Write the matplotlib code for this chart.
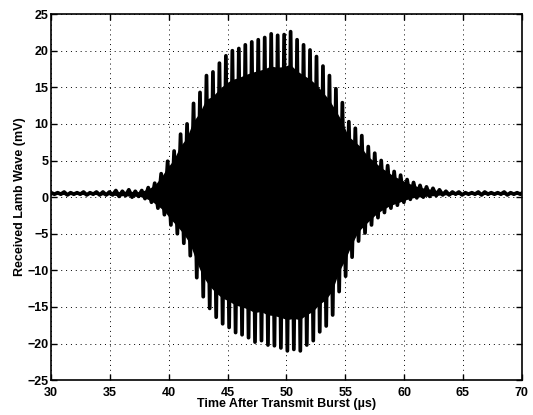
import numpy as np
import matplotlib
matplotlib.use("Agg")
import matplotlib.pyplot as plt

# burst: one positive and one negative peak per carrier cycle
t_start_us = 30.0
cycle_us = 0.55

peak_hi_mV = [
    0.6, 0.6, 0.7, 0.6, 0.6, 0.7, 0.6, 0.7, 0.7, 0.7,
    0.9, 0.8, 1.0, 0.8, 0.9, 1.3, 1.9, 3.2, 4.9, 6.3,
    8.6, 10.0, 12.8, 14.3, 16.6, 17.1, 18.3, 19.3, 20.0, 20.3,
    20.8, 21.2, 21.5, 21.8, 22.3, 22.1, 22.2, 22.6, 21.5, 20.8,
    20.1, 19.2, 17.9, 16.6, 14.8, 12.9, 10.3, 9.4, 8.4, 6.9,
    6.0, 5.0, 4.3, 3.5, 3.0, 2.4, 2.0, 1.6, 1.4, 1.2,
    1.0, 0.8, 0.7, 0.7, 0.6, 0.6, 0.7, 0.7, 0.6, 0.6,
    0.7, 0.6, 0.6, 0.7,
]
peak_lo_mV = [
    0.4, 0.4, 0.3, 0.4, 0.4, 0.3, 0.4, 0.3, 0.3, 0.3,
    0.1, 0.2, 0.0, 0.1, -0.2, -0.7, -1.5, -2.4, -3.8, -5.0,
    -6.3, -8.0, -11.0, -13.6, -15.2, -16.4, -17.3, -17.8, -18.5, -18.8,
    -19.2, -19.8, -19.6, -20.2, -20.3, -20.6, -21.0, -20.8, -21.0, -20.2,
    -19.6, -18.4, -17.6, -16.1, -12.9, -10.8, -8.2, -6.0, -4.9, -3.8,
    -2.8, -2.1, -1.5, -1.1, -0.7, -0.3, -0.1, 0.0, 0.1, 0.2,
    0.3, 0.3, 0.4, 0.3, 0.4, 0.4, 0.3, 0.4, 0.4, 0.4,
    0.3, 0.4, 0.4, 0.3,
]

x_ticks = [30, 35, 40, 45, 50, 55, 60, 65, 70]
y_ticks = [-25, -20, -15, -10, -5, 0, 5, 10, 15, 20, 25]

hi = np.array(peak_hi_mV)
lo = np.array(peak_lo_mV)
t_hi = t_start_us + cycle_us * np.arange(len(hi))
t_lo = t_hi + cycle_us / 2
t = np.column_stack([t_hi, t_lo]).ravel()
v = np.column_stack([hi, lo]).ravel()

CORE = 0.8  # the dense middle of the scanned trace prints as solid black

plt.rcParams["font.family"] = ["Liberation Sans", "DejaVu Sans"]

fig = plt.figure(figsize=(5.33, 4.15), dpi=100)
ax = fig.add_axes([0.096, 0.084, 0.883, 0.882])
ax.fill(np.r_[t_hi, t_lo[::-1]], np.r_[CORE * hi, CORE * lo[::-1]],
        color="black", linewidth=0)
ax.plot(t, v, color="black", linewidth=2.7)

ax.set_xlim(30, 70)
ax.set_ylim(-25, 25)
ax.set_xticks(x_ticks)
ax.set_yticks(y_ticks)
ax.grid(True, color="black", linestyle=(0, (1, 4)), linewidth=0.7)
ax.set_axisbelow(True)
ax.tick_params(direction="in", length=4, width=1, top=True, right=True,
               labelsize=9)
ax.tick_params(axis="x", pad=5)
ax.tick_params(axis="y", pad=2)
for lab in ax.get_xticklabels() + ax.get_yticklabels():
    lab.set_fontweight("bold")
for s in ax.spines.values():
    s.set_linewidth(1.2)

ax.set_xlabel("Time After Transmit Burst (\u00b5s)", fontsize=9,
              fontweight="bold", labelpad=-1)
ax.set_ylabel("Received Lamb Wave (mV)", fontsize=9, fontweight="bold",
              labelpad=1)

fig.savefig("out.png", dpi=100)
